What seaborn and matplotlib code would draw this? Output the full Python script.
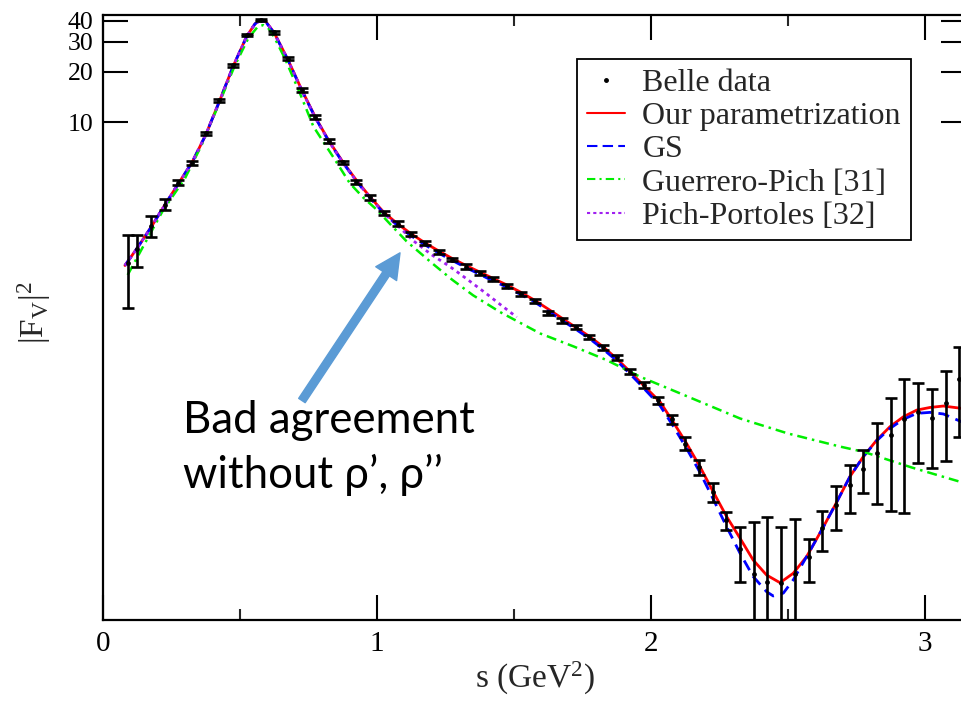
import numpy as np
import pandas as pd
import matplotlib
matplotlib.use("Agg")
import matplotlib.pyplot as plt
import seaborn as sns
from matplotlib.lines import Line2D
from matplotlib.ticker import FixedLocator, MultipleLocator, NullLocator, FuncFormatter

# ---------------- data ----------------
s_data = [0.09, 0.125, 0.175, 0.225, 0.275, 0.325, 0.375, 0.425, 0.475, 0.525,
          0.575, 0.625, 0.675, 0.725, 0.775, 0.825, 0.875, 0.925, 0.975, 1.025,
          1.075, 1.125, 1.175, 1.225, 1.275, 1.325, 1.375, 1.425, 1.475, 1.525,
          1.575, 1.625, 1.675, 1.725, 1.775, 1.825, 1.875, 1.925, 1.975, 2.025,
          2.075, 2.125, 2.175, 2.225, 2.275, 2.325, 2.375, 2.425, 2.475, 2.525,
          2.575, 2.625, 2.675, 2.725, 2.775, 2.825, 2.875, 2.925, 2.975, 3.025,
          3.075, 3.125]
f2_data = [1.45, 1.75, 2.41, 3.23, 4.36, 5.68, 8.57, 13.5, 21.8, 33.0,
           40.5, 34.2, 23.9, 15.5, 10.7, 7.7, 5.75, 4.41, 3.56, 2.86,
           2.49, 2.15, 1.90, 1.69, 1.52, 1.38, 1.27, 1.16, 1.06, 0.95,
           0.86, 0.73, 0.66, 0.605, 0.527, 0.456, 0.398, 0.327, 0.272, 0.221,
           0.170, 0.122, 0.0887, 0.063, 0.0426, 0.0287, 0.0204, 0.0184, 0.018, 0.0204,
           0.0256, 0.0383, 0.0527, 0.069, 0.0866, 0.107, 0.1375, 0.171, 0.187, 0.172,
           0.213, 0.297]
f2_err = [0.67, 0.37, 0.35, 0.25, 0.15, 0.15, 0.2, 0.3, 0.4, 0.6,
          0.7, 0.6, 0.5, 0.35, 0.3, 0.2, 0.15, 0.12, 0.1, 0.08,
          0.07, 0.06, 0.05, 0.05, 0.04, 0.04, 0.035, 0.035, 0.03, 0.03,
          0.025, 0.022, 0.02, 0.018, 0.016, 0.015, 0.013, 0.012, 0.012, 0.011,
          0.011, 0.011, 0.0093, 0.008, 0.0053, 0.0103, 0.0214, 0.026, 0.021, 0.023,
          0.0072, 0.0103, 0.0154, 0.0218, 0.025, 0.054, 0.089, 0.124, 0.094, 0.085,
          0.117, 0.163]

s_ours = [0.08, 0.125, 0.175, 0.225, 0.275, 0.325, 0.375, 0.425, 0.475, 0.525,
          0.555, 0.575, 0.595, 0.625, 0.675, 0.725, 0.775, 0.825, 0.875, 0.925,
          0.975, 1.025, 1.075, 1.125, 1.175, 1.225, 1.275, 1.325, 1.375, 1.425,
          1.475, 1.525, 1.575, 1.625, 1.675, 1.725, 1.775, 1.825, 1.875, 1.925,
          1.96, 2.033, 2.081, 2.13, 2.179, 2.227, 2.276, 2.325, 2.373, 2.422,
          2.471, 2.519, 2.568, 2.623, 2.672, 2.726, 2.775, 2.824, 2.872, 2.921,
          2.97, 3.018, 3.067, 3.15]
f2_ours = [1.40, 1.78, 2.36, 3.2, 4.3, 5.75, 8.4, 13.3, 21.5, 32.5,
           38.5, 40.6, 39.5, 34.0, 23.5, 15.6, 10.7, 7.7, 5.8, 4.5,
           3.58, 2.9, 2.48, 2.16, 1.91, 1.71, 1.54, 1.40, 1.28, 1.17,
           1.07, 0.97, 0.87, 0.77, 0.68, 0.60, 0.53, 0.46, 0.39, 0.325,
           0.284, 0.216, 0.164, 0.122, 0.0887, 0.063, 0.0448, 0.0333, 0.0247, 0.0201,
           0.0181, 0.0206, 0.0259, 0.0373, 0.0525, 0.0775, 0.102, 0.128, 0.1536, 0.176,
           0.193, 0.200, 0.204, 0.196]

s_gs = [0.08, 0.125, 0.175, 0.225, 0.275, 0.325, 0.375, 0.425, 0.475, 0.525,
        0.555, 0.575, 0.595, 0.625, 0.675, 0.725, 0.775, 0.825, 0.875, 0.925,
        0.975, 1.025, 1.075, 1.125, 1.175, 1.225, 1.275, 1.325, 1.375, 1.425,
        1.475, 1.525, 1.575, 1.625, 1.675, 1.725, 1.775, 1.825, 1.875, 1.925,
        1.96, 2.033, 2.081, 2.13, 2.179, 2.227, 2.276, 2.325, 2.373, 2.422,
        2.446, 2.483, 2.519, 2.568, 2.623, 2.672, 2.726, 2.775, 2.824, 2.872,
        2.921, 2.97, 3.018, 3.067, 3.15]
f2_gs = [1.40, 1.78, 2.36, 3.2, 4.3, 5.75, 8.4, 13.3, 21.5, 32.5,
         38.5, 40.4, 39.3, 33.8, 23.4, 15.5, 10.6, 7.65, 5.75, 4.45,
         3.53, 2.86, 2.42, 2.10, 1.86, 1.66, 1.50, 1.36, 1.24, 1.13,
         1.04, 0.94, 0.85, 0.75, 0.66, 0.585, 0.515, 0.445, 0.38, 0.315,
         0.275, 0.205, 0.155, 0.114, 0.082, 0.057, 0.039, 0.0271, 0.0197, 0.016,
         0.0151, 0.0157, 0.0188, 0.0259, 0.0373, 0.0525, 0.0775, 0.102, 0.127, 0.150,
         0.170, 0.1845, 0.187, 0.183, 0.160]

s_gp = [0.09, 0.159, 0.22, 0.299, 0.36, 0.427, 0.48, 0.53, 0.565, 0.585,
        0.605, 0.625, 0.664, 0.719, 0.768, 0.84, 0.901, 0.95, 1.0, 1.05,
        1.108, 1.2, 1.275, 1.351, 1.449, 1.595, 1.72, 1.838, 1.96, 2.1,
        2.325, 2.5, 2.69, 2.775, 2.95, 3.15]
f2_gp = [1.23, 1.98, 3.0, 4.62, 7.3, 13.3, 21.5, 31.5, 37.0, 37.8,
         36.0, 32.0, 23.9, 14.8, 9.4, 6.2, 4.32, 3.55, 3.0, 2.45,
         1.95, 1.45, 1.15, 0.93, 0.74, 0.552, 0.46, 0.383, 0.305, 0.245,
         0.172, 0.14, 0.117, 0.109, 0.088, 0.0705]

s_pp = [0.08, 0.125, 0.175, 0.225, 0.275, 0.325, 0.375, 0.425, 0.475, 0.525,
        0.555, 0.575, 0.595, 0.625, 0.675, 0.725, 0.775, 0.825, 0.875, 0.925,
        0.975, 1.025, 1.075, 1.13, 1.2, 1.266, 1.326, 1.40, 1.45, 1.51]
f2_pp = [1.40, 1.78, 2.36, 3.2, 4.3, 5.75, 8.4, 13.3, 21.5, 32.5,
         38.5, 40.5, 39.4, 33.9, 23.4, 15.5, 10.6, 7.65, 5.75, 4.45,
         3.55, 2.86, 2.43, 1.98, 1.62, 1.38, 1.17, 0.95, 0.82, 0.69]

legend_labels = ["Belle data", "Our parametrization", "GS",
                 "Guerrero-Pich [31]", "Pich-Portoles [32]"]
note_lines = ["Bad agreement", "without ρ’, ρ’’"]
y_ticks = [10, 20, 30, 40]
x_ticks = [0, 1, 2, 3]

# ---------------- style ----------------
sns.set_style("ticks")
plt.rcParams["font.family"] = ["Liberation Serif", "DejaVu Serif"]
plt.rcParams["mathtext.fontset"] = "custom"
plt.rcParams["mathtext.rm"] = "Liberation Serif"
plt.rcParams["mathtext.it"] = "Liberation Serif:italic"

fig = plt.figure(figsize=(9.61, 7.03), dpi=100)
W, H = 961, 703
ax = fig.add_axes([103 / W, 1 - 620 / H, (966 - 103) / W, (620 - 15) / H])
ax.set_yscale("log")

RED, BLUE, GREEN, PURPLE = "#ff0000", "#0000ff", "#00ee00", "#a020f0"

sns.lineplot(x=s_ours, y=f2_ours, ax=ax, color=RED, lw=2.0, sort=False, estimator=None)
l = sns.lineplot(x=s_gs, y=f2_gs, ax=ax, color=BLUE, lw=2.0, sort=False, estimator=None).lines[-1]
l.set_dashes((4, 2.5))
l = sns.lineplot(x=s_gp, y=f2_gp, ax=ax, color=GREEN, lw=1.8, sort=False, estimator=None).lines[-1]
l.set_dashes((4, 2, 1, 2))
l = sns.lineplot(x=s_pp, y=f2_pp, ax=ax, color=PURPLE, lw=2.0, sort=False, estimator=None).lines[-1]
l.set_dashes((1.2, 1.5))

ax.errorbar(s_data, f2_data, yerr=f2_err, fmt="none", ecolor="black",
            elinewidth=1.9, capsize=4.5, capthick=1.9, zorder=5)
sns.scatterplot(x=s_data, y=f2_data, ax=ax, color="black", s=12, linewidth=0, zorder=6)

ax.set_xlim(0, 863 / 274)
ax.set_ylim(0.01086, 43.4)

ax.xaxis.set_major_locator(FixedLocator(x_ticks))
ax.xaxis.set_minor_locator(MultipleLocator(0.5))
ax.yaxis.set_major_locator(FixedLocator(y_ticks))
ax.yaxis.set_minor_locator(NullLocator())
ax.yaxis.set_major_formatter(FuncFormatter(lambda v, p: f"{v:g}"))
ax.xaxis.set_major_formatter(FuncFormatter(lambda v, p: f"{v:g}"))

ax.tick_params(which="major", direction="in", length=18, width=1.5,
               top=True, right=True, colors="black")
ax.tick_params(axis="x", which="major", labelsize=21, pad=8)
ax.tick_params(axis="y", which="major", labelsize=18.5, pad=7)
ax.tick_params(which="minor", direction="in", length=8, width=1.5, top=True, right=True)
for sp in ax.spines.values():
    sp.set_linewidth(1.6)
    sp.set_color("black")

ax.set_xlabel(r"s (GeV$^2$)", fontsize=24, labelpad=2)
ax.set_ylabel(r"$|\mathrm{F}_{\mathrm{V}}|^{2}$", fontsize=24)
ax.yaxis.set_label_coords((53 - 103) / 863, (620 - 313) / 605)

handles = [
    Line2D([], [], ls="none", marker="o", ms=2.5, color="black"),
    Line2D([], [], color=RED, lw=1.5),
    Line2D([], [], color=BLUE, lw=1.5, dashes=(5, 2.5)),
    Line2D([], [], color=GREEN, lw=1.5, dashes=(4, 2, 1, 2)),
    Line2D([], [], color=PURPLE, lw=1.5, dashes=(1.5, 1.5)),
]
leg = ax.legend(handles, legend_labels, loc="upper left",
                bbox_to_anchor=(577 / W, 1 - 59 / H), bbox_transform=fig.transFigure,
                frameon=True, fancybox=False, edgecolor="black", framealpha=1,
                fontsize=23, handlelength=1.2, handletextpad=0.55, labelspacing=0.12,
                borderpad=0.3, borderaxespad=0)
leg.get_frame().set_linewidth(1.3)

# annotation
ax.annotate("", xy=(1.084, 1.666), xytext=(0.726, 0.22), xycoords="data",
            arrowprops=dict(arrowstyle="simple,head_length=0.9,head_width=0.9,tail_width=0.28",
                            color="#5b9bd5", mutation_scale=20, shrinkA=0, shrinkB=0))
for line, base in zip(note_lines, [433, 488]):
    fig.text(183 / W, 1 - base / H, line, fontsize=31.5,
             family=["Lato", "DejaVu Sans"], ha="left", va="baseline", color="black")

fig.savefig("out.png", dpi=100)
